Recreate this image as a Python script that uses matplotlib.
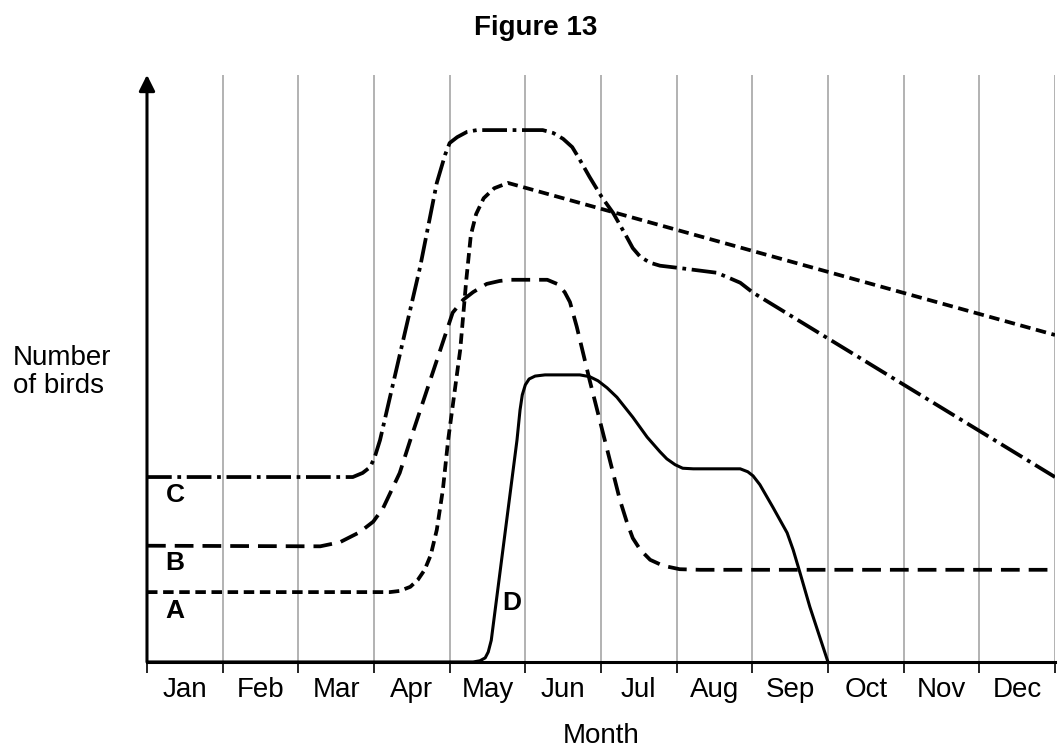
import matplotlib.pyplot as plt
import numpy as np

plt.rcParams['font.family'] = ['Liberation Sans', 'DejaVu Sans']

months = ["Jan", "Feb", "Mar", "Apr", "May", "Jun",
          "Jul", "Aug", "Sep", "Oct", "Nov", "Dec"]

# x in months since start of Jan, y in relative bird numbers (0-100)
a_x = [0, 3.21, 3.34, 3.48, 3.58, 3.67, 3.75, 3.83, 3.91, 3.98, 4.14, 4.22,
       4.28, 4.35, 4.45, 4.59, 4.77, 12]
a_y = [11.9, 11.9, 12.1, 12.8, 14.0, 15.7, 18.2, 22.5, 29.3, 37.8, 53.2, 65.1,
       72.7, 76.3, 79.0, 80.7, 81.6, 55.7]

b_x = [0, 2.29, 2.55, 2.81, 2.99, 3.12, 3.34, 3.48, 4.04, 4.18, 4.31, 4.49,
       4.66, 4.80, 5.29, 5.42, 5.52, 5.59, 5.68, 5.85, 6.05, 6.25, 6.34, 6.42,
       6.52, 6.65, 6.82, 7.04, 7.31, 12]
b_y = [19.8, 19.7, 20.4, 22.1, 23.9, 26.2, 32.2, 37.8, 59.5, 61.7, 63.0, 64.4,
       64.9, 65.1, 65.1, 64.4, 63.0, 61.3, 57.1, 48.0, 37.8, 27.6, 23.9, 21.1,
       19.1, 17.4, 16.4, 15.8, 15.7, 15.7]

c_x = [0, 2.72, 2.85, 2.95, 3.01, 3.08, 3.61, 3.83, 3.94, 4.00, 4.10, 4.23,
       4.36, 5.23, 5.37, 5.50, 5.62, 5.70, 5.85, 6.01, 6.16, 6.34, 6.42, 6.52,
       6.65, 6.78, 7.04, 7.53, 7.66, 7.84, 8.01, 12]
c_y = [31.5, 31.5, 32.2, 33.2, 34.9, 37.8, 67.3, 81.6, 86.4, 88.4, 89.4, 90.3,
       90.6, 90.6, 90.1, 89.1, 87.7, 86.0, 82.6, 79.2, 76.5, 72.4, 70.5, 69.0,
       68.0, 67.5, 67.1, 66.3, 65.6, 64.6, 62.9, 31.5]

d_x = [0, 4.31, 4.40, 4.47, 4.51, 4.55, 4.89, 4.93, 4.96, 5.00, 5.05, 5.13,
       5.26, 5.72, 5.85, 5.96, 6.08, 6.21, 6.42, 6.61, 6.78, 6.87, 6.98, 7.08,
       7.22, 7.84, 7.94, 8.01, 8.10, 8.27, 8.46, 8.54, 8.63, 8.76, 8.89, 9.00]
d_y = [0, 0, 0.2, 0.7, 1.7, 3.7, 37.8, 42.9, 45.5, 47.2, 48.2, 48.7,
       48.9, 48.9, 48.6, 47.9, 46.7, 45.1, 41.7, 38.3, 35.8, 34.6, 33.6, 33.0,
       32.9, 32.9, 32.4, 31.7, 30.2, 26.4, 22.0, 19.1, 15.2, 9.4, 4.3, 0]

labels = {"C": (0.37, 28.4), "B": (0.37, 16.9), "A": (0.37, 8.7), "D": (4.82, 10.1)}

fig = plt.figure(figsize=(10.59, 7.49), dpi=100)
ax = fig.add_axes([0.1388, 0.1162, 0.8574, 0.7838])

# month gridlines
for m in range(1, 13):
    ax.axvline(m, color="#a6a6a6", lw=1.2, zorder=1)

lw = 2.7
ax.plot(a_x, a_y, color="black", lw=lw, dashes=(2.8, 1.5), zorder=3)
ax.plot(b_x, b_y, color="black", lw=lw, dashes=(5.0, 2.4), zorder=3)
ax.plot(c_x, c_y, color="black", lw=lw, dashes=(6.6, 1.5, 1.0, 1.5), zorder=3)
ax.plot(d_x, d_y, color="black", lw=2.2, zorder=3)

for k, (x, y) in labels.items():
    ax.text(x, y, k, fontsize=19, fontweight="bold", ha="center", va="center")

ax.set_xlim(0, 12)
ax.set_ylim(0, 100)

for s in ["top", "right", "left"]:
    ax.spines[s].set_visible(False)
ax.spines["bottom"].set_linewidth(2.2)

# y axis with arrow head
ax.annotate("", xy=(0, 1.0), xytext=(0, 0), xycoords="axes fraction",
            arrowprops=dict(arrowstyle="-|>", lw=2.2, color="black",
                            mutation_scale=24, shrinkA=0, shrinkB=0),
            annotation_clip=False)

ax.set_xticks(np.arange(0, 13))
ax.set_xticklabels([])
ax.set_xticks(np.arange(12) + 0.5, minor=True)
ax.set_xticklabels(months, minor=True, fontsize=20)
ax.tick_params(axis="x", which="major", length=8, width=1.2, direction="out")
ax.tick_params(axis="x", which="minor", length=0, pad=11)
ax.set_yticks([])

ax.set_xlabel("Month", fontsize=20, labelpad=14)
fig.text(0.012, 0.503, "Number\nof birds", fontsize=20, ha="left", va="center",
         linespacing=1.1)
fig.text(0.506, 0.962, "Figure 13", fontsize=20, fontweight="bold",
         ha="center", va="center")

fig.savefig("out.png", dpi=100)
